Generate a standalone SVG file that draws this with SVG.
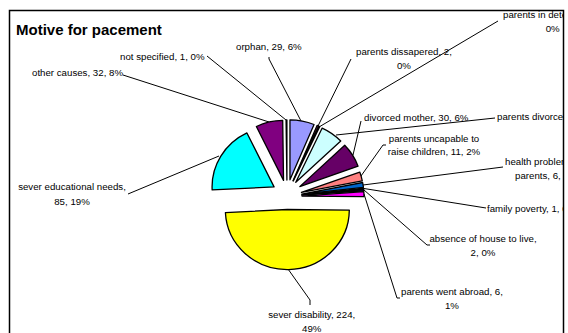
<svg xmlns="http://www.w3.org/2000/svg" width="568" height="333" viewBox="0 0 568 333">
<defs>
<style>
.lbl{font-family:"Liberation Sans",Arial,sans-serif;font-size:9.7px;fill:#000}
.mid{text-anchor:middle}
.ttl{font-family:"Liberation Sans",Arial,sans-serif;font-size:15px;font-weight:bold;fill:#000}
.sl{stroke:#000;stroke-width:1.3;stroke-linejoin:round}
.ld{fill:none;stroke:#000;stroke-width:1}
</style>
<clipPath id="clipR"><rect x="0" y="0" width="563" height="333"/></clipPath>
</defs>
<rect x="0" y="0" width="568" height="333" fill="#fff"/>
<rect id="frame" x="9.5" y="10.5" width="554" height="340" fill="#fff" stroke="#000" stroke-width="1.5"/>
<text class="ttl" x="16" y="35">Motive for pacement</text>
<g id="connectors">
<polyline class="ld" points="123,75 269,122"/>
<polyline class="ld" points="207,56 286,120"/>
<polyline class="ld" points="269,57 269,59 301,121"/>
<polyline class="ld" points="351,59 318,126"/>
<polyline class="ld" points="498,21 319,127"/>
<polyline class="ld" points="495,118 336,135"/>
<polyline class="ld" points="361,121 353,155"/>
<polyline class="ld" points="386,145 383,145 361,176"/>
<polyline class="ld" points="503,167 363,185"/>
<polyline class="ld" points="486,208 364,188.5"/>
<polyline class="ld" points="430,245 427,245 364,190"/>
<polyline class="ld" points="400,298 397,298 364,194"/>
<polyline class="ld" points="288,269 310,300 310,305"/>
<polyline class="ld" points="128,194 219,156"/>
</g>
<g clip-path="url(#clipR)">
<g id="orphan"><path class="sl" fill="#9999FF" d="M289.97,179.8 L289.97,119.8 A62,60 0 0 1 314.05,124.51 Z"/><text class="lbl" x="236" y="50">orphan, 29, 6%</text></g>
<g id="parents-dissapered"><path class="sl" fill="#993366" d="M293.02,180.76 L317.1,125.47 A62,60 0 0 1 318.65,126.12 Z"/><text class="lbl mid" x="404" y="55">parents dissapered, 2,</text><text class="lbl mid" x="404" y="69">0%</text></g>
<g id="parents-in-detention"><path class="sl" fill="#FFFFCC" d="M293.3,180.89 L318.93,126.25 A62,60 0 0 1 319.71,126.6 Z"/><text class="lbl" x="503" y="17.5">parents in dete</text><text class="lbl" x="545.7" y="31.5">0%</text></g>
<g id="parents-divorced"><path class="sl" fill="#CCFFFF" d="M295.78,182.34 L322.19,128.05 A62,60 0 0 1 340.74,141.03 Z"/><text class="lbl" x="497" y="120">parents divorced</text></g>
<g id="divorced-mother"><path class="sl" fill="#660066" d="M299.76,186.62 L344.72,145.31 A62,60 0 0 1 358.06,166.21 Z"/><text class="lbl" x="364" y="121">divorced mother, 30, 6%</text></g>
<g id="parents-uncapable"><path class="sl" fill="#FF8080" d="M301.45,192.48 L359.75,172.07 A62,60 0 0 1 362.27,180.8 Z"/><text class="lbl mid" x="434" y="141.5">parents uncapable to</text><text class="lbl mid" x="434" y="155">raise children, 11, 2%</text></g>
<g id="health-problem"><path class="sl" fill="#0066CC" d="M301.82,194.19 L362.64,182.51 A62,60 0 0 1 363.42,187.4 Z"/><text class="lbl" x="505" y="165">health problem</text><text class="lbl" x="515" y="178.5">parents, 6, 1</text></g>
<g id="family-poverty"><path class="sl" fill="#CCCCFF" d="M301.91,194.91 L363.51,188.12 A62,60 0 0 1 363.6,188.94 Z"/><text class="lbl" x="487" y="211.5">family poverty, 1, 0</text></g>
<g id="absence-of-house"><path class="sl" fill="#000080" d="M301.94,195.21 L363.63,189.24 A62,60 0 0 1 363.78,190.89 Z"/><text class="lbl mid" x="483" y="241.5">absence of house to live,</text><text class="lbl mid" x="483" y="256">2, 0%</text></g>
<g id="parents-went-abroad"><path class="sl" fill="#FF00FF" d="M301.99,196.04 L363.83,191.72 A62,60 0 0 1 363.99,196.67 Z"/><text class="lbl mid" x="452" y="295">parents went abroad, 6,</text><text class="lbl mid" x="452" y="308.5">1%</text></g>
<g id="sever-disability"><path class="sl" fill="#FFFF00" d="M287.31,209.5 L349.31,210.13 A62,60 0 0 1 225.39,212.58 Z"/><text class="lbl mid" x="311.7" y="318">sever disability, 224,</text><text class="lbl mid" x="311.7" y="331.5">49%</text></g>
<g id="sever-educational-needs"><path class="sl" fill="#00FFFF" d="M274.08,186.88 L212.16,189.96 A62,60 0 0 1 246.92,132.95 Z"/><text class="lbl mid" x="72" y="190">sever educational needs,</text><text class="lbl mid" x="72" y="205">85, 19%</text></g>
<g id="other-causes"><path class="sl" fill="#800080" d="M283.53,180.41 L256.37,126.48 A62,60 0 0 1 282.7,120.42 Z"/><text class="lbl" x="32" y="76">other causes, 32, 8%</text></g>
<g id="not-specified"><path class="sl" fill="#800000" d="M286.9,180 L286.07,120.01 A62,60 0 0 1 286.9,120 Z"/><text class="lbl" x="120" y="59.5">not specified, 1, 0%</text></g>
</g>
</svg>
